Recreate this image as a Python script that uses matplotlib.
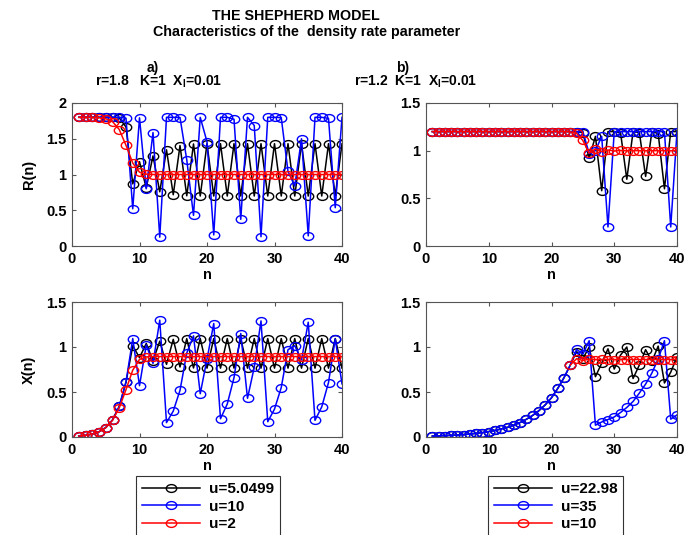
import numpy as np
import matplotlib
matplotlib.use('Agg')
import matplotlib.pyplot as plt
from matplotlib.path import Path

# fuente tipo Arial en negrita para todo
plt.rcParams['font.family'] = ['Liberation Sans', 'DejaVu Sans']
plt.rcParams['font.weight'] = 'bold'
plt.rcParams['mathtext.fontset'] = 'custom'
plt.rcParams['mathtext.rm'] = 'Liberation Sans:bold'
plt.rcParams['mathtext.it'] = 'Liberation Sans:bold'
plt.rcParams['mathtext.bf'] = 'Liberation Sans:bold'

n = np.arange(1, 41)

# a) r=1.8, K=1, X_I=0.01
labels_a = ['u=5.0499', 'u=10', 'u=2']
ra_black = [1.800, 1.800, 1.800, 1.800, 1.800, 1.800, 1.792, 1.664, 0.869, 1.179,
            0.814, 1.260, 0.758, 1.345, 0.717, 1.405, 0.702, 1.427, 0.699, 1.430,
            0.699, 1.431, 0.699, 1.431, 0.699, 1.431, 0.699, 1.431, 0.699, 1.431,
            0.699, 1.431, 0.699, 1.431, 0.699, 1.431, 0.699, 1.431, 0.699, 1.431]
ra_blue = [1.800, 1.800, 1.800, 1.800, 1.800, 1.800, 1.800, 1.787, 0.521, 1.793,
           0.800, 1.587, 0.123, 1.800, 1.800, 1.797, 1.206, 0.428, 1.799, 1.458,
           0.155, 1.800, 1.800, 1.773, 0.373, 1.800, 1.685, 0.130, 1.800, 1.800,
           1.795, 1.044, 0.839, 1.500, 0.142, 1.800, 1.800, 1.785, 0.536, 1.800]
ra_red = [1.800, 1.799, 1.798, 1.794, 1.781, 1.740, 1.629, 1.408, 1.160, 1.033,
          1.004, 1.000, 1.000, 1.000, 1.000, 1.000, 1.000, 1.000, 1.000, 1.000,
          1.000, 1.000, 1.000, 1.000, 1.000, 1.000, 1.000, 1.000, 1.000, 1.000,
          1.000, 1.000, 1.000, 1.000, 1.000, 1.000, 1.000, 1.000, 1.000, 1.000]

xa_black = [0.010, 0.018, 0.032, 0.058, 0.105, 0.189, 0.340, 0.609, 1.014, 0.881,
            1.039, 0.846, 1.065, 0.807, 1.085, 0.778, 1.093, 0.767, 1.094, 0.765,
            1.094, 0.765, 1.094, 0.765, 1.094, 0.765, 1.094, 0.765, 1.094, 0.765,
            1.094, 0.765, 1.094, 0.765, 1.094, 0.765, 1.094, 0.765, 1.094, 0.765]
xa_blue = [0.010, 0.018, 0.032, 0.058, 0.105, 0.189, 0.340, 0.612, 1.094, 0.570,
           1.023, 0.818, 1.298, 0.160, 0.288, 0.518, 0.932, 1.124, 0.481, 0.865,
           1.261, 0.203, 0.366, 0.659, 1.150, 0.430, 0.775, 1.290, 0.170, 0.310,
           0.550, 0.970, 1.015, 0.855, 1.275, 0.185, 0.335, 0.605, 1.090, 0.590]
xa_red = [0.010, 0.018, 0.032, 0.058, 0.104, 0.186, 0.324, 0.527, 0.743, 0.862,
          0.890, 0.894, 0.894, 0.894, 0.894, 0.894, 0.894, 0.894, 0.894, 0.894,
          0.894, 0.894, 0.894, 0.894, 0.894, 0.894, 0.894, 0.894, 0.894, 0.894,
          0.894, 0.894, 0.894, 0.894, 0.894, 0.894, 0.894, 0.894, 0.894, 0.894]

# b) r=1.2, K=1, X_I=0.01
labels_b = ['u=22.98', 'u=35', 'u=10']
rb_black = [1.200, 1.200, 1.200, 1.200, 1.200, 1.200, 1.200, 1.200, 1.200, 1.200,
            1.200, 1.200, 1.200, 1.200, 1.200, 1.200, 1.200, 1.200, 1.200, 1.200,
            1.200, 1.200, 1.200, 1.200, 1.190, 0.920, 1.150, 0.580, 1.200, 1.200,
            1.190, 0.700, 1.200, 1.190, 0.730, 1.200, 1.180, 0.600, 1.200, 1.200]
rb_blue = [1.200, 1.200, 1.200, 1.200, 1.200, 1.200, 1.200, 1.200, 1.200, 1.200,
           1.200, 1.200, 1.200, 1.200, 1.200, 1.200, 1.200, 1.200, 1.200, 1.200,
           1.200, 1.200, 1.200, 1.200, 1.200, 0.970, 1.000, 1.150, 0.200, 1.200,
           1.200, 1.200, 1.200, 1.200, 1.200, 1.200, 1.200, 1.200, 0.200, 1.200]
rb_red = [1.200, 1.200, 1.200, 1.200, 1.200, 1.200, 1.200, 1.200, 1.200, 1.200,
          1.200, 1.200, 1.200, 1.200, 1.200, 1.200, 1.200, 1.200, 1.200, 1.200,
          1.200, 1.200, 1.197, 1.181, 1.107, 0.974, 1.018, 0.989, 1.007, 0.996,
          1.003, 0.998, 1.000, 1.000, 1.000, 1.000, 1.000, 1.000, 1.000, 1.000]

xb_black = [0.010, 0.012, 0.015, 0.018, 0.022, 0.027, 0.033, 0.040, 0.049, 0.060,
            0.073, 0.089, 0.108, 0.132, 0.161, 0.197, 0.240, 0.293, 0.357, 0.436,
            0.540, 0.660, 0.800, 0.950, 0.870, 1.000, 0.670, 0.820, 0.980, 0.755,
            0.910, 1.000, 0.650, 0.800, 0.970, 0.840, 1.010, 0.600, 0.720, 0.890]
xb_blue = [0.010, 0.012, 0.015, 0.018, 0.022, 0.027, 0.033, 0.040, 0.049, 0.060,
           0.073, 0.089, 0.108, 0.132, 0.161, 0.197, 0.240, 0.293, 0.357, 0.436,
           0.540, 0.660, 0.800, 0.975, 0.920, 1.070, 0.131, 0.167, 0.194, 0.223,
           0.272, 0.328, 0.395, 0.488, 0.588, 0.711, 0.867, 1.070, 0.198, 0.245]
xb_red = [np.nan, np.nan, np.nan, np.nan, np.nan, np.nan, np.nan, np.nan, np.nan, np.nan,
          np.nan, np.nan, np.nan, np.nan, np.nan, np.nan, np.nan, np.nan, np.nan, np.nan,
          np.nan, np.nan, 0.800, 0.870, 0.850, 0.865, 0.860, 0.862, 0.861, 0.861,
          0.861, 0.861, 0.861, 0.861, 0.861, 0.861, 0.861, 0.861, 0.861, 0.861]

# circulo algo achatado como en la figura original
circ = Path.unit_circle()
oval = Path(circ.vertices * [1.0, 0.75], circ.codes)

W, H = 690, 535
fig = plt.figure(figsize=(W / 100, H / 100), dpi=100)
FS = 10.5


def rect(x0, x1, y0, y1):
    return [x0 / W, 1 - y1 / H, (x1 - x0) / W, (y1 - y0) / H]


def panel(r, series, ylim, yticks, ylabel=None):
    ax = fig.add_axes(r)
    lines = []
    for vals, col in zip(series, ['k', 'b', 'r']):
        ln, = ax.plot(n, vals, color=col, lw=1.1, marker=oval, ms=7.5,
                      mfc='none', mec=col, mew=1.0)
        lines.append(ln)
    ax.set_xlim(0, 40)
    ax.set_ylim(ylim)
    ax.set_xticks([0, 10, 20, 30, 40])
    ax.set_yticks(yticks)
    ax.set_yticklabels(['%g' % v for v in yticks])
    ax.tick_params(direction='in', top=True, right=True, length=3,
                   labelsize=FS, pad=4, color='#555555')
    for s in ax.spines.values():
        s.set_color('#555555')
        s.set_linewidth(0.8)
    ax.set_xlabel('n', fontsize=FS, fontweight='bold', labelpad=2)
    if ylabel:
        ax.set_ylabel(ylabel, fontsize=FS, fontweight='bold', labelpad=7)
    return ax, lines


ax1, _ = panel(rect(72, 342, 103, 246), [ra_black, ra_blue, ra_red], (0, 2),
               [0, 0.5, 1, 1.5, 2], 'R(n)')
ax2, _ = panel(rect(426, 677, 103, 246), [rb_black, rb_blue, rb_red], (0, 1.5),
               [0, 0.5, 1, 1.5])
ax3, la = panel(rect(72, 342, 302, 437), [xa_black, xa_blue, xa_red], (0, 1.5),
                [0, 0.5, 1, 1.5], 'X(n)')
ax4, lb = panel(rect(426, 677, 302, 437), [xb_black, xb_blue, xb_red], (0, 1.5),
                [0, 0.5, 1, 1.5])

fig.text(296 / W, 1 - 16 / H, 'THE SHEPHERD MODEL', ha='center', va='center',
         fontsize=10.3, fontweight='bold')
fig.text(307 / W, 1 - 32 / H, 'Characteristics of the  density rate parameter',
         ha='center', va='center', fontsize=10.3, fontweight='bold')

fig.text(153 / W, 1 - 68 / H, 'a)', ha='center', va='center', fontsize=10)
fig.text(159 / W, 1 - 82 / H, r'r=1.8   K=1  X$_\mathrm{I}$=0.01', ha='center',
         va='center', fontsize=10)
fig.text(403 / W, 1 - 68 / H, 'b)', ha='center', va='center', fontsize=10)
fig.text(416 / W, 1 - 82 / H, r'r=1.2  K=1  X$_\mathrm{I}$=0.01', ha='center',
         va='center', fontsize=10)

# leyendas en cajas separadas debajo de cada columna
for lines, labs, x0 in [(la, labels_a, 136), (lb, labels_b, 488)]:
    leg = fig.legend(lines, labs, loc='upper left', bbox_to_anchor=(x0 / W, 1 - 476 / H),
                     fancybox=False, edgecolor='#333333', framealpha=1,
                     fontsize=11, handlelength=3.8, handletextpad=0.55,
                     labelspacing=0.24, borderpad=0.4, borderaxespad=0)
    leg.get_frame().set_linewidth(0.8)

fig.savefig('out.png', dpi=100)
